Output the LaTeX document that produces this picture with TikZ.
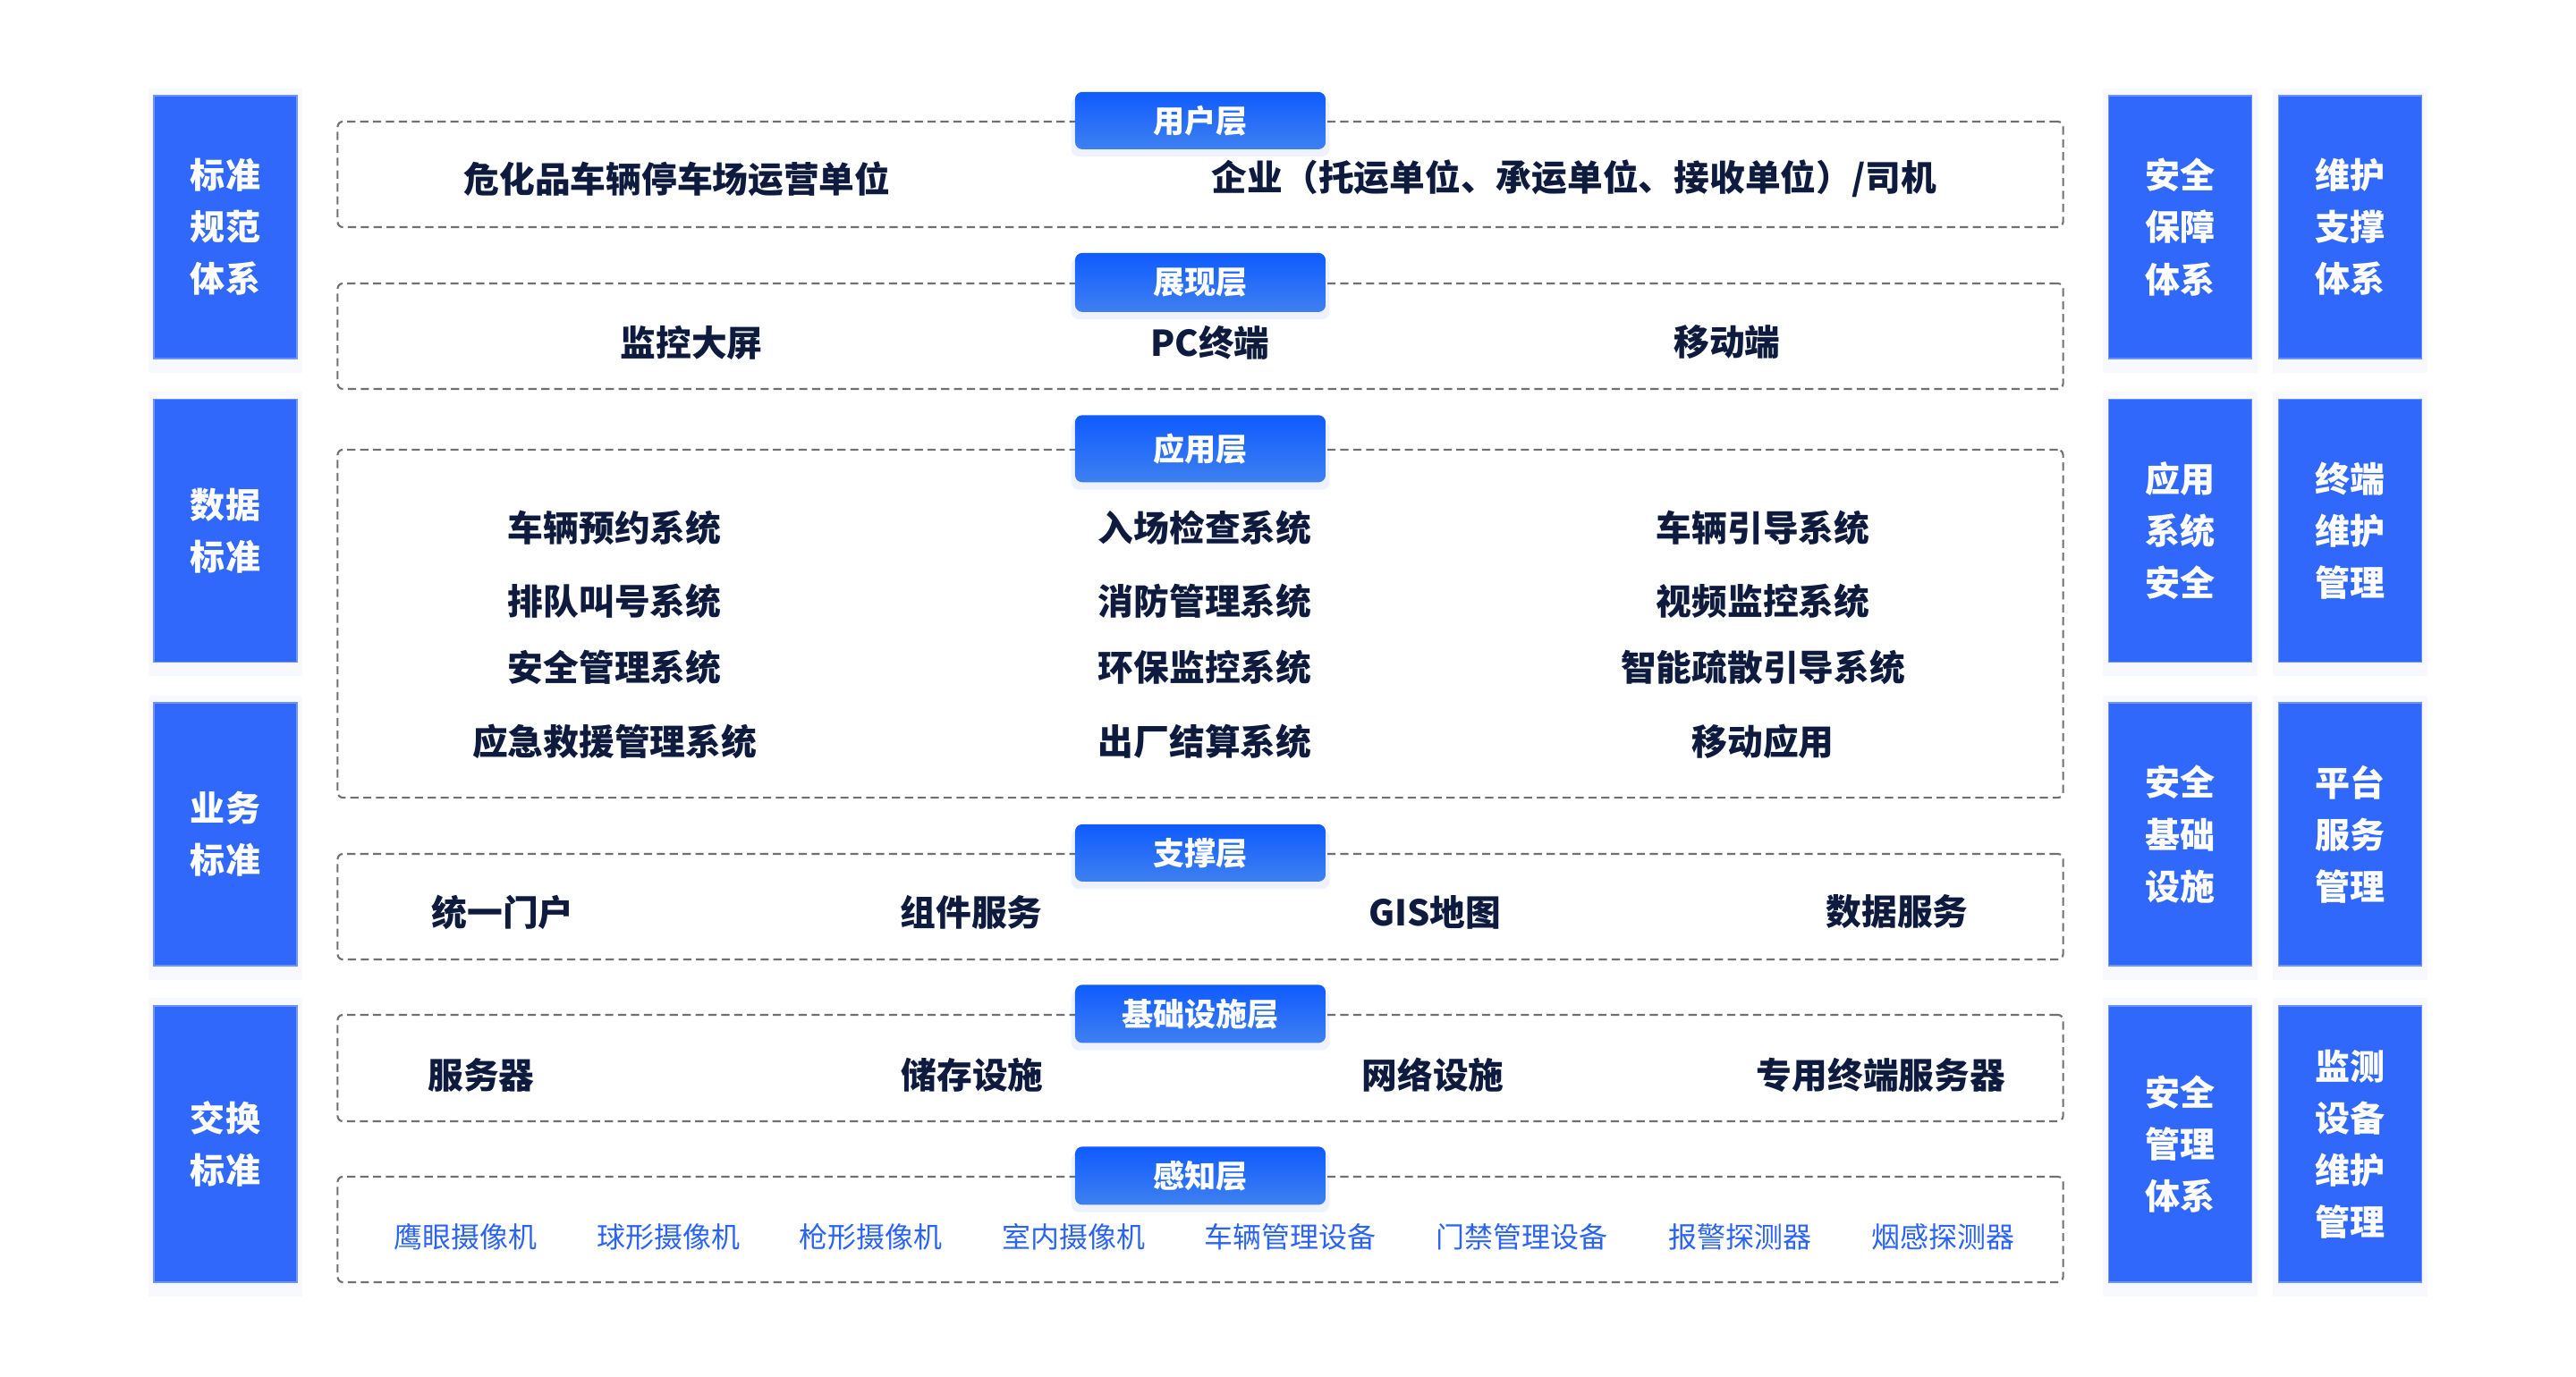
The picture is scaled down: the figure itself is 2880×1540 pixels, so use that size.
\documentclass[tikz,border=0pt]{standalone}
\usepackage{fontspec}
\setmainfont{Noto Sans CJK SC}
\usetikzlibrary{shadows}
\definecolor{sidebox}{HTML}{3168FC}
\definecolor{tabtop}{HTML}{0F5BFF}
\definecolor{tabbot}{HTML}{3F80F0}
\definecolor{ink}{HTML}{0E1B3F}
\definecolor{dashc}{HTML}{6E7075}
\definecolor{sensor}{HTML}{2B63F2}
\definecolor{glowc}{HTML}{3A6EF5}

\begin{document}
\begin{tikzpicture}[
x=0.01cm, y=-0.01cm,
side/.style={
  fill=sidebox,
  draw=sidebox!70!white,
  line width=0.4pt,
  minimum width=1.6cm,
  minimum height=2.94cm,
  inner sep=0pt,
  align=center,
  text=white,
  font=\fontsize{11.1}{16.5}\selectfont\bfseries,
  drop shadow={shadow xshift=0pt, shadow yshift=-1pt, shadow scale=1.08, opacity=0.04, fill=glowc}
  },
layer/.style={
  draw=dashc,
  line width=0.6pt,
  dash pattern=on 2.6pt off 1.5pt,
  rounded corners=1.7pt,
  minimum width=19.28cm,
  inner sep=0pt
  },
tab/.style={
  top color=tabtop,
  bottom color=tabbot,
  draw=none,
  rounded corners=2.3pt,
  minimum width=2.8cm,
  text=white,
  font=\fontsize{10}{12}\selectfont\bfseries,
  drop shadow={shadow xshift=0pt, shadow yshift=-2pt, shadow scale=1.03, opacity=0.09, fill=glowc}
  },
item/.style={
  text=ink,
  inner sep=0pt,
  font=\fontsize{11.3}{13}\selectfont\bfseries
  },
sens/.style={
  text=sensor,
  inner sep=0pt,
  font=\fontsize{9.1}{11}\selectfont
  }
]
\useasboundingbox (0,0) rectangle (2880,1540);

% side columns
\node[side] (std1) at (252,254) {标准\\规范\\体系};
\node[side] (std2) at (252,593.5) {数据\\标准};
\node[side] (std3) at (252,933) {业务\\标准};
\node[side, minimum height=3.09cm] (std4) at (252,1279.5) {交换\\标准};

\node[side] (sec1) at (2437.5,254) {安全\\保障\\体系};
\node[side] (sec2) at (2437.5,593.5) {应用\\系统\\安全};
\node[side] (sec3) at (2437.5,933) {安全\\基础\\设施};
\node[side, minimum height=3.09cm] (sec4) at (2437.5,1279.5) {安全\\管理\\体系};

\node[side] (mnt1) at (2627.5,254) {维护\\支撑\\体系};
\node[side] (mnt2) at (2627.5,593.5) {终端\\维护\\管理};
\node[side] (mnt3) at (2627.5,933) {平台\\服务\\管理};
\node[side, minimum height=3.09cm] (mnt4) at (2627.5,1279.5) {监测\\设备\\维护\\管理};

% layers and their tabs
\foreach \n/\y/\h in {1/195/1.18cm, 2/376/1.18cm, 3/697.5/3.89cm, 4/1014/1.18cm, 5/1194.5/1.19cm, 6/1375/1.18cm}
  \node[layer, minimum height=\h] (lay\n) at (1342,\y) {};

\foreach \n/\t/\h in {1/用户层/0.64cm, 2/展现层/0.66cm, 3/应用层/0.75cm, 4/支撑层/0.64cm, 5/基础设施层/0.65cm, 6/感知层/0.65cm}
  \node[tab, minimum height=\h] (tab\n) at (lay\n.north) {\t};

% user layer
\node[item] (usr1) at (757,200) {危化品车辆停车场运营单位};
\node[item] (usr2) at (1760,200) {企业（托运单位、承运单位、接收单位）/司机};

% presentation layer
\foreach \x/\t [count=\i] in {773/监控大屏, 1353/PC终端, 1931/移动端}
  \node[item] (pre\i) at (\x,383) {\t};

% application layer
\foreach \y/\a/\b/\c [count=\i] in {590/车辆预约系统/入场检查系统/车辆引导系统,
                                  672/排队叫号系统/消防管理系统/视频监控系统,
                                  746/安全管理系统/环保监控系统/智能疏散引导系统,
                                  829/应急救援管理系统/出厂结算系统/移动应用}
{
  \node[item] (app\i a) at (687,\y) {\a};
  \node[item] (app\i b) at (1347,\y) {\b};
  \node[item] (app\i c) at (1971,\y) {\c};
}

% support layer
\foreach \x/\t [count=\i] in {562/统一门户, 1086/组件服务, 1604/GIS地图, 2121/数据服务}
  \node[item] (sup\i) at (\x,1020) {\t};

% infrastructure layer
\foreach \x/\t [count=\i] in {538/服务器, 1087/储存设施, 1602/网络设施, 2103/专用终端服务器}
  \node[item] (inf\i) at (\x,1202) {\t};

% sensing layer
\foreach \x/\t [count=\i] in {520/鹰眼摄像机, 747/球形摄像机, 973/枪形摄像机, 1200/室内摄像机,
                              1442/车辆管理设备, 1701/门禁管理设备, 1945/报警探测器, 2172/烟感探测器}
  \node[sens] (sen\i) at (\x,1383) {\t};
\end{tikzpicture}
\end{document}
